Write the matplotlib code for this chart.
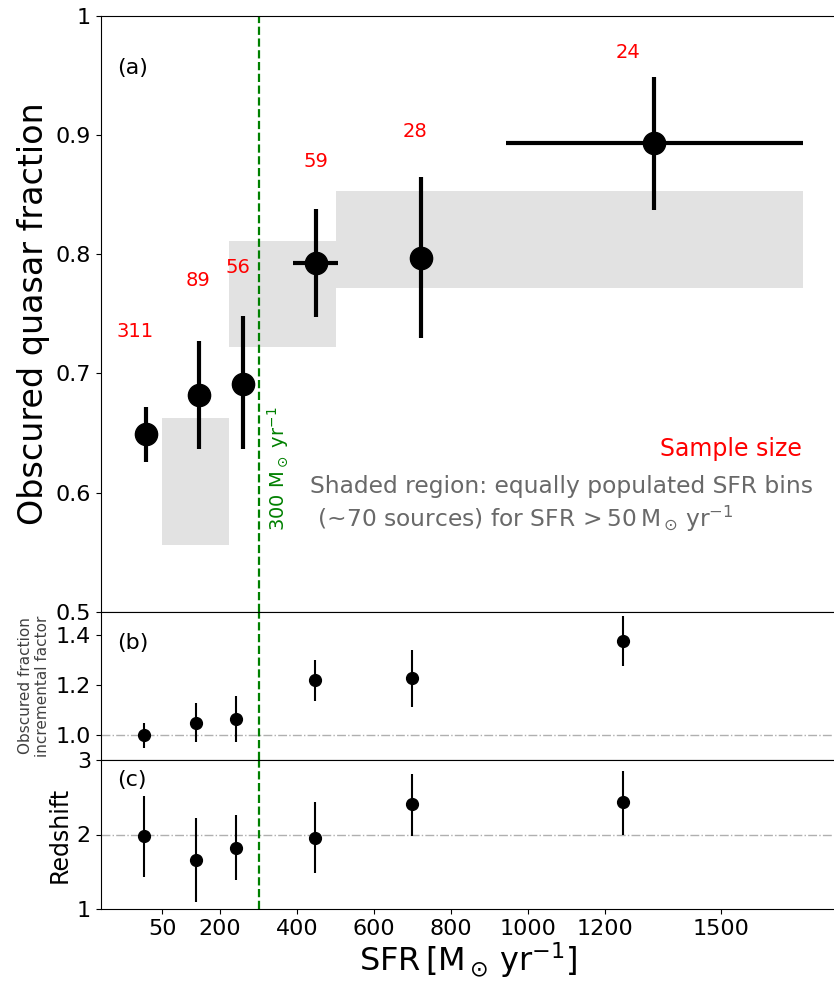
import numpy as np
import matplotlib
matplotlib.use("Agg")
import matplotlib.pyplot as plt

# equally populated SFR bins (shaded) for SFR > 50
bin_edges = [50, 222, 500, 1712]
shade_lo = [0.556, 0.722, 0.772]
shade_hi = [0.663, 0.811, 0.853]

# obscured fraction per SFR bin
sfr_a = [8, 144, 260, 449, 721, 1327]
sfr_a_lo = [8, 144, 260, 390, 721, 943]
sfr_a_hi = [8, 144, 260, 507, 721, 1712]
frac = [0.649, 0.682, 0.691, 0.793, 0.797, 0.893]
frac_lo = [0.626, 0.637, 0.637, 0.747, 0.730, 0.837]
frac_hi = [0.672, 0.727, 0.748, 0.838, 0.865, 0.949]
n_src = [311, 89, 56, 59, 28, 24]

# incremental factor and redshift
sfr_b = [2, 138, 242, 445, 698, 1245]
factor = [1.00, 1.049, 1.065, 1.22, 1.227, 1.373]
factor_lo = [0.949, 0.973, 0.973, 1.137, 1.113, 1.273]
factor_hi = [1.049, 1.127, 1.157, 1.30, 1.337, 1.473]
zmed = [1.98, 1.66, 1.82, 1.957, 2.405, 2.43]
z_lo = [1.425, 1.10, 1.39, 1.48, 1.98, 2.0]
z_hi = [2.52, 2.22, 2.26, 2.43, 2.81, 2.855]

xticks = [50, 200, 400, 600, 800, 1000, 1200, 1500]
sfr_cut = 300

# where the sample-size numbers sit
label_x = [-21, 143, 247, 449, 706, 1259]
label_y = [0.735, 0.778, 0.789, 0.878, 0.903, 0.969]


def asym(c, lo, hi):
    c, lo, hi = map(np.asarray, (c, lo, hi))
    return np.vstack([c - lo, hi - c])


fig = plt.figure(figsize=(8.34, 9.83), dpi=100)
W, H = 834.0, 983.0
left, right = 100.7 / W, 834.6 / W
ax1 = fig.add_axes([left, (H - 612) / H, right - left, (612 - 15.7) / H])
ax2 = fig.add_axes([left, (H - 760) / H, right - left, 148 / H], sharex=ax1)
ax3 = fig.add_axes([left, (H - 909) / H, right - left, 149 / H], sharex=ax1)

# panel a
edges = np.array(bin_edges)
ax1.bar(edges[:-1], np.array(shade_hi) - np.array(shade_lo), width=np.diff(edges),
        bottom=shade_lo, align="edge", color="#e2e2e2", zorder=1)
ax1.errorbar(sfr_a, frac, yerr=asym(frac, frac_lo, frac_hi),
             xerr=asym(sfr_a, sfr_a_lo, sfr_a_hi), fmt="o", color="k",
             ms=16, elinewidth=3, capsize=0, zorder=3)
for x, y, n in zip(label_x, label_y, n_src):
    ax1.text(x, y, str(n), color="red", fontsize=14, ha="center", va="center")
ax1.text(0.022, 0.912, "(a)", transform=ax1.transAxes, fontsize=16, va="center")
ax1.text(1527, 0.637, "Sample size", color="red", fontsize=17, ha="center", va="center")
ax1.text(433, 0.6, "Shaded region: equally populated SFR bins",
         color="dimgray", fontsize=16.8, ha="left", va="baseline")
ax1.text(433, 0.5715, r" (~70 sources) for SFR$\,>50\,\mathrm{M_\odot\,yr^{-1}}$",
         color="dimgray", fontsize=16.8, ha="left", va="baseline")
ax1.text(351, 0.568, r"300 M$_\odot$ yr$^{-1}$", color="green", fontsize=14,
         rotation=90, ha="center", va="bottom")
ax1.set_ylim(0.5, 1.0)
ax1.set_yticks([0.5, 0.6, 0.7, 0.8, 0.9, 1.0])
ax1.set_yticklabels(["0.5", "0.6", "0.7", "0.8", "0.9", "1"])
ax1.set_ylabel("Obscured quasar fraction", fontsize=24)

# panel b
ax2.axhline(1.0, color="#b0b0b0", lw=1, ls="-.", zorder=1)
ax2.errorbar(sfr_b, factor, yerr=asym(factor, factor_lo, factor_hi), fmt="o",
             color="k", ms=8.5, elinewidth=1.5, capsize=0, zorder=3)
ax2.text(0.022, 0.79, "(b)", transform=ax2.transAxes, fontsize=16, va="center")
ax2.set_ylim(0.9, 1.49)
ax2.set_yticks([1.0, 1.2, 1.4])
ax2.set_yticklabels(["1.0", "1.2", "1.4"])
ax2.set_ylabel("Obscured fraction\nincremental factor", fontsize=11, color="#404040",
               labelpad=4)

# panel c
ax3.axhline(2.0, color="#b0b0b0", lw=1, ls="-.", zorder=1)
ax3.errorbar(sfr_b, zmed, yerr=asym(zmed, z_lo, z_hi), fmt="o", color="k",
             ms=8.5, elinewidth=1.5, capsize=0, zorder=3)
ax3.text(0.022, 0.866, "(c)", transform=ax3.transAxes, fontsize=16, va="center")
ax3.set_ylim(1, 3)
ax3.set_yticks([1, 2, 3])
ax3.set_ylabel("Redshift", fontsize=17)
ax3.set_xlabel(r"SFR$\,[\mathrm{M_\odot\,yr^{-1}}]$", fontsize=23, labelpad=1)

for ax in (ax1, ax2, ax3):
    ax.axvline(sfr_cut, color="green", ls="--", lw=1.6, zorder=2)
    ax.tick_params(labelsize=16)
for ax in (ax1, ax2):
    plt.setp(ax.get_xticklabels(), visible=False)

ax1.set_xlim(-110, 1795)
ax3.set_xticks(xticks)
ax3.set_xticklabels([str(t) for t in xticks])

fig.savefig("out.png", dpi=100)
